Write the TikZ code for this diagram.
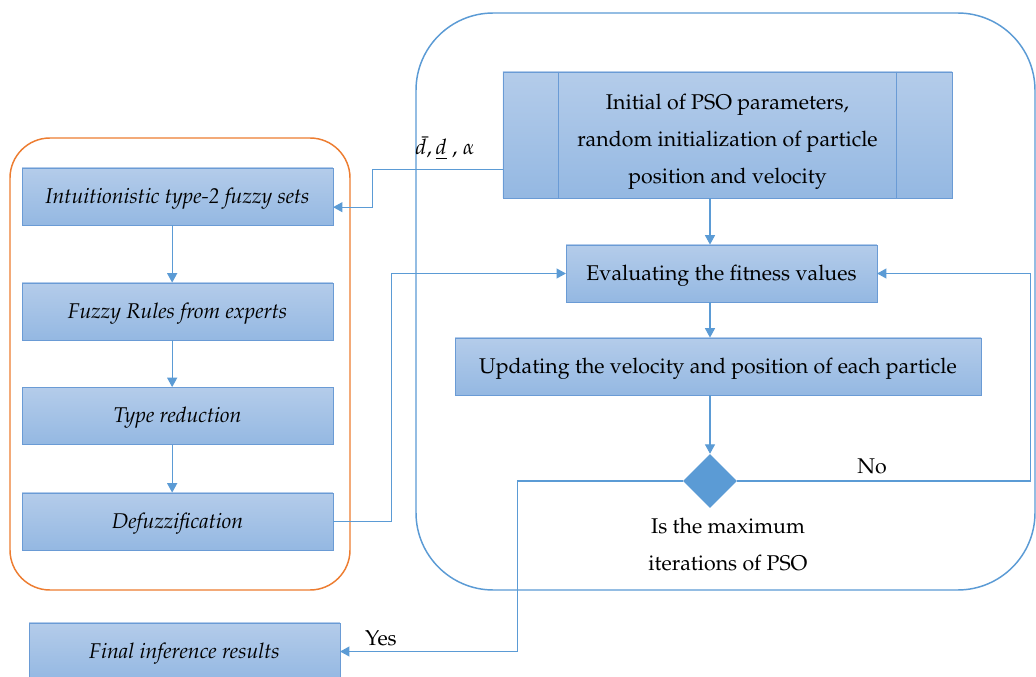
\documentclass[tikz,border=0pt]{standalone}
\usepackage[T1]{fontenc}
\usepackage{mathpazo}
\usetikzlibrary{arrows.meta,shapes.geometric}
\definecolor{boxtop}{HTML}{B4CCEA}
\definecolor{boxbot}{HTML}{94B8E2}
\definecolor{boxline}{HTML}{6A9BD5}
\definecolor{flowblue}{HTML}{5B9BD5}
\definecolor{frameorange}{HTML}{ED7D31}
\tikzset{
  stage/.style={rectangle, top color=boxtop, bottom color=boxbot, draw=boxline, align=center, inner sep=0pt, font=\fontsize{16}{27.75}\selectfont},
  oneline/.style={text height=12pt, text depth=2pt},
  fuzzy stage/.style={stage, oneline, font=\fontsize{16}{20}\selectfont\itshape, minimum width=233pt, minimum height=43pt},
  pso stage/.style={stage, oneline, minimum height=43pt},
  decision/.style={diamond, fill=flowblue, minimum width=40.5pt, minimum height=40.5pt, inner sep=0pt},
  flow/.style={draw=flowblue, line width=0.8pt, ->},
  note/.style={align=center, font=\fontsize{16}{27.75}\selectfont},
  >={Triangle[length=7pt,width=7.5pt]},
}
\begin{document}
\begin{tikzpicture}[x=0.75pt,y=-0.75pt]
\useasboundingbox[fill=white] (0,0) rectangle (1036,677);
%the frames
\draw[frameorange, line width=1.1pt, rounded corners=30pt] (10,138) rectangle (350,590);
\draw[flowblue, line width=1.1pt, rounded corners=58pt] (416,13) rectangle (1035,590);
%the fuzzy side
\node[fuzzy stage] (sets) at (177.5,196.5) {Intuitionistic type-2 fuzzy sets};
\node[fuzzy stage] (rules) at (177.5,311.5) {Fuzzy Rules from experts};
\node[fuzzy stage] (reduce) at (177.5,416) {Type reduction};
\node[fuzzy stage] (defuzz) at (177.5,521.5) {Defuzzification};
\node[fuzzy stage] (final) at (184.5,651.5) {Final inference results};
%the PSO side
\node[stage, minimum width=337pt, minimum height=94.5pt] (init) at (727.5,135) {\rule{0pt}{22pt}Initial of PSO parameters,\\random initialization of particle\\position and velocity};
\draw[boxline] ([xshift=42pt]init.north west) -- ([xshift=42pt]init.south west);
\draw[boxline] ([xshift=-42pt]init.north east) -- ([xshift=-42pt]init.south east);
\node[pso stage, minimum width=233pt] (eval) at (721.5,273.5) {Evaluating the fitness values};
\node[pso stage, minimum width=394.5pt] (update) at (718,366.5) {Updating the velocity and position of each particle};
\node[decision] (dec) at (710,481) {};
\node[note] (question) at (728,545) {Is the maximum\\iterations of PSO};
\node[note] (params) at (445,148) {$\bar{d}$,\,$\underline{d}$ , $\alpha$};
\node[note] (no) at (872,466) {No};
\node[note] (yes) at (381,638) {Yes};
%drawings of vectors
\draw[flow] ([xshift=-4pt]sets.south) -- ([xshift=-4pt]rules.north);
\draw[flow] ([xshift=-4pt]rules.south) -- ([xshift=-4pt]reduce.north);
\draw[flow] ([xshift=-4pt]reduce.south) -- ([xshift=-4pt]defuzz.north);
\draw[flow] ([yshift=-26pt]init.west) -- ++(-130,0) |- ([yshift=-8pt]sets.east);
\draw[flow] (defuzz.east) -- ++(58,0) |- (eval.west);
\draw[flow] (dec |- init.south) -- (dec |- eval.north);
\draw[flow] (dec |- eval.south) -- (dec |- update.north);
\draw[flow] (dec |- update.south) -- (dec.north);
\draw[flow] (dec.east) -- ++(293,0) |- (eval.east);
\draw[flow] (dec.west) -- ++(-165,0) |- (final.east);
\end{tikzpicture}
\end{document}
